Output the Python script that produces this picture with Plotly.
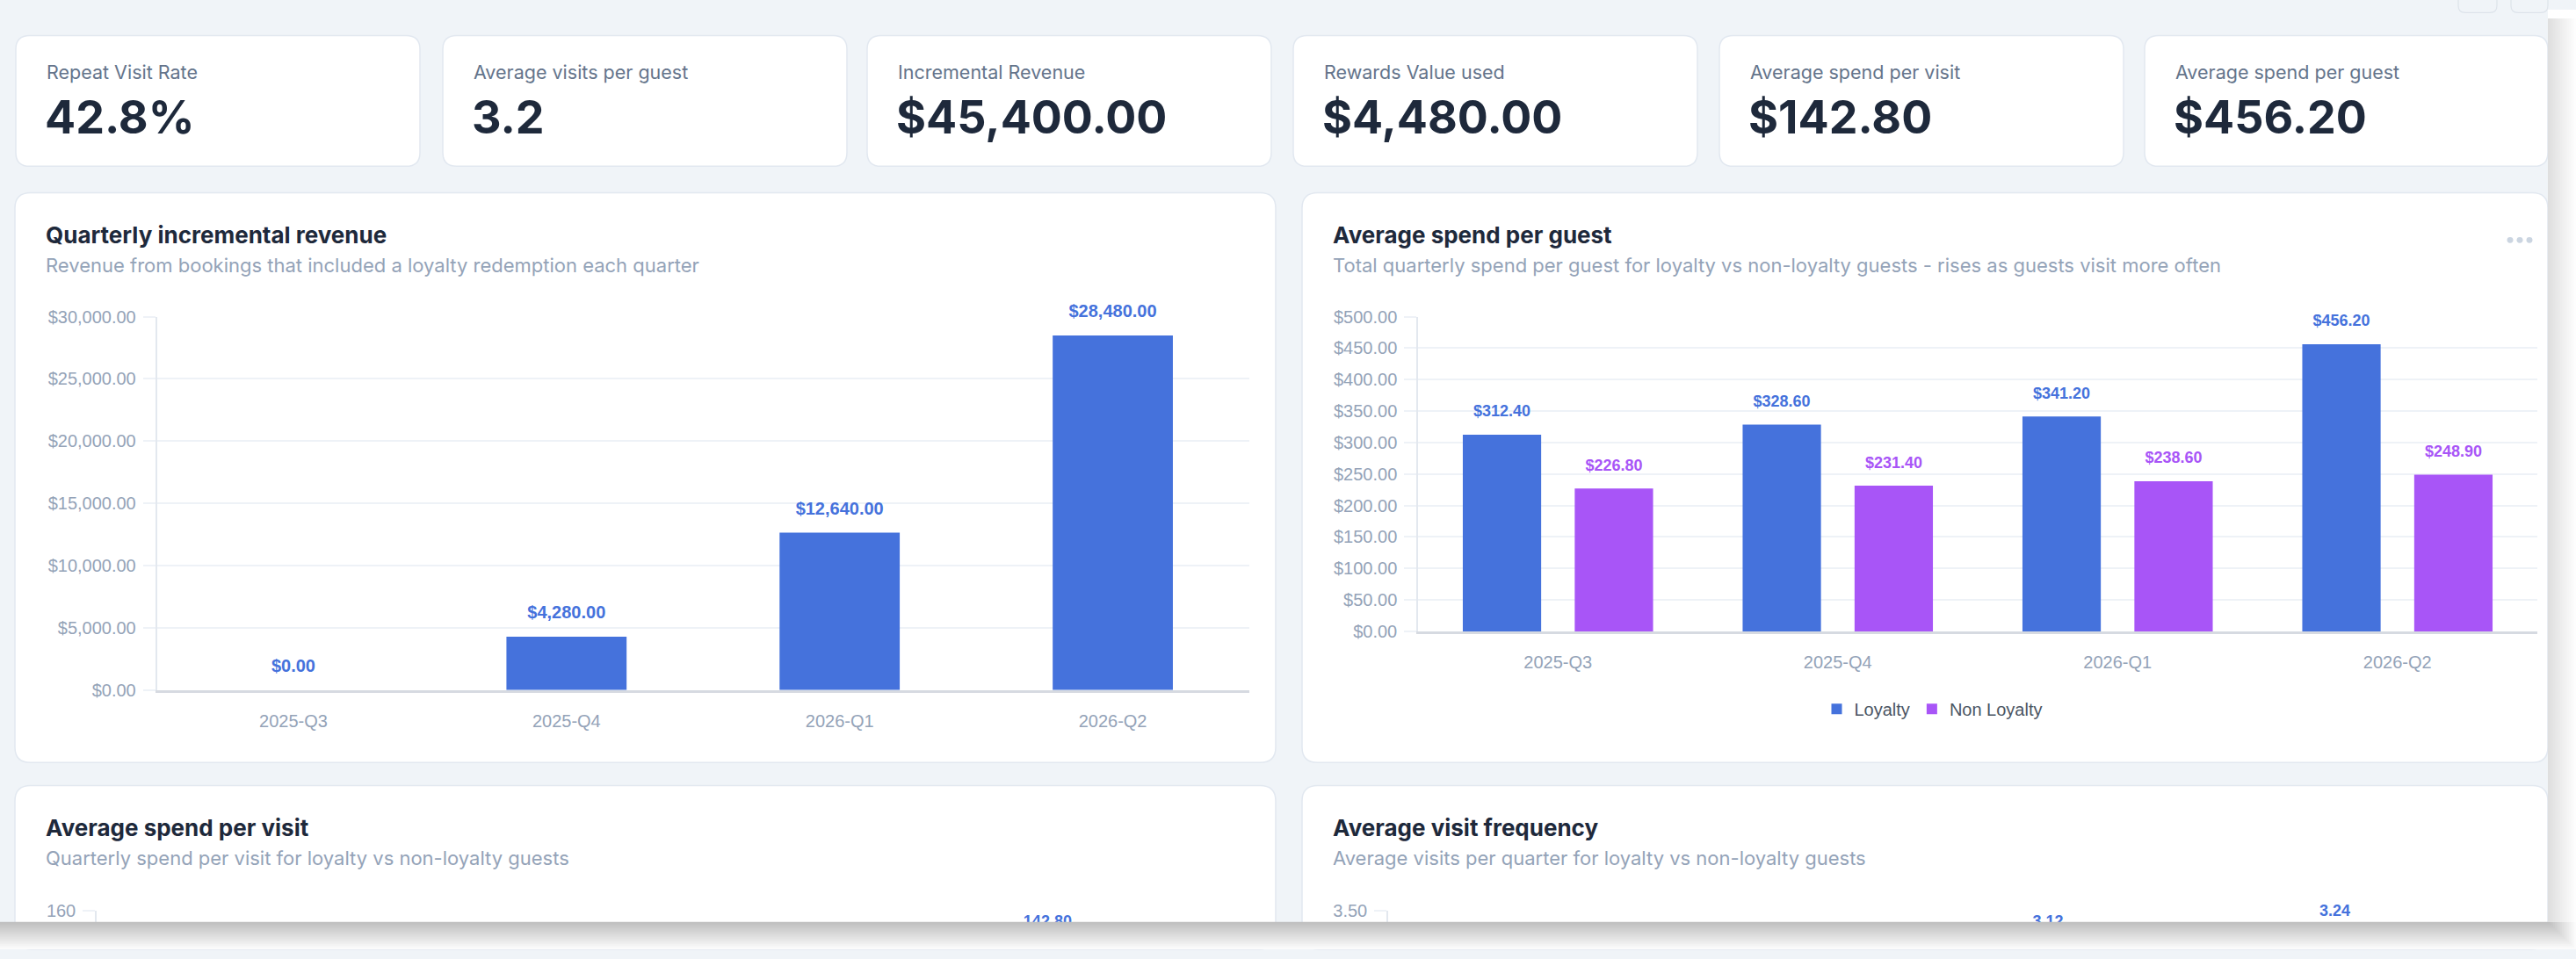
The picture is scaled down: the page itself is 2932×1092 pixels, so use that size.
import plotly.graph_objects as go

W, H = 2932, 1092

# ---------------- data ----------------
quarters = ["2025-Q3", "2025-Q4", "2026-Q1", "2026-Q2"]
incremental_revenue = [0.00, 4280.00, 12640.00, 28480.00]
spend_guest_loyalty = [312.40, 328.60, 341.20, 456.20]
spend_guest_non_loyalty = [226.80, 231.40, 238.60, 248.90]
spend_visit_loyalty = [126.40, 131.20, 135.60, 142.80]
spend_visit_non_loyalty = [104.20, 106.80, 109.50, 112.30]
visits_loyalty = [2.68, 2.86, 3.12, 3.24]
visits_non_loyalty = [1.84, 1.92, 1.97, 2.05]
series_names = ["Loyalty", "Non Loyalty"]

kpi_labels = ["Repeat Visit Rate", "Average visits per guest", "Incremental Revenue",
              "Rewards Value used", "Average spend per visit", "Average spend per guest"]
kpi_values = ["42.8%", "3.2", "$45,400.00", "$4,480.00", "$142.80", "$456.20"]

chart_titles = ["Quarterly incremental revenue", "Average spend per guest",
                "Average spend per visit", "Average visit frequency"]
chart_subtitles = [
    "Revenue from bookings that included a loyalty redemption each quarter",
    "Total quarterly spend per guest for loyalty vs non-loyalty guests - rises as guests visit more often",
    "Quarterly spend per visit for loyalty vs non-loyalty guests",
    "Average visits per quarter for loyalty vs non-loyalty guests",
]

# ---------------- styles ----------------
BLUE = "#4572dc"
PURPLE = "#a855f7"
BG = "#f0f4f8"
BORDER = "#e2e8f0"
TITLE = "#1e293b"
SUB = "#94a3b8"
KPI_LABEL = "#64748b"
TICK = "#94a3b8"
GRID = "#eef2f7"
UI = "Inter, 'Noto Sans', sans-serif"
CH = "'Liberation Sans', Arial, sans-serif"


def fx(x):
    return x / W


def fy(y):
    return 1 - y / H


def rrect_path(x0, y0, x1, y1, r):
    segs = [("M", [(x0 + r, y0)]), ("L", [(x1 - r, y0)]), ("Q", [(x1, y0), (x1, y0 + r)]),
            ("L", [(x1, y1 - r)]), ("Q", [(x1, y1), (x1 - r, y1)]), ("L", [(x0 + r, y1)]),
            ("Q", [(x0, y1), (x0, y1 - r)]), ("L", [(x0, y0 + r)]), ("Q", [(x0, y0), (x0 + r, y0)])]
    s = ""
    for cmd, pts in segs:
        s += cmd + " ".join(f"{fx(a):.6f},{fy(b):.6f}" for a, b in pts) + " "
    return s + "Z"


fig = go.Figure()


def label_trace(xa, ya, values, color, fmt, size):
    return go.Scatter(
        x=quarters, y=values, mode="markers+text", texttemplate=fmt,
        textposition="top center", orientation="v",
        textfont=dict(family=CH, size=size, color=color, weight="bold"),
        marker=dict(size=24, color="rgba(0,0,0,0)"),
        xaxis=xa, yaxis=ya, showlegend=False, hoverinfo="skip", cliponaxis=False)


# chart 1
fig.add_trace(go.Bar(x=quarters, y=incremental_revenue, width=0.44,
                     marker=dict(color=BLUE, line_width=0),
                     xaxis="x", yaxis="y", showlegend=False, hoverinfo="skip"))
fig.add_trace(label_trace("x", "y", incremental_revenue, BLUE, "%{y:$,.2f}", 20))

# grouped charts
grouped = [
    ("x2", "y2", spend_guest_loyalty, spend_guest_non_loyalty, "%{y:$,.2f}", True),
    ("x3", "y3", spend_visit_loyalty, spend_visit_non_loyalty, "%{y:.2f}", False),
    ("x4", "y4", visits_loyalty, visits_non_loyalty, "%{y:.2f}", False),
]
for xa, ya, loy, non, fmt, leg in grouped:
    for name, vals, col in [(series_names[0], loy, BLUE), (series_names[1], non, PURPLE)]:
        fig.add_trace(go.Bar(x=quarters, y=vals, name=name, marker=dict(color=col, line_width=0),
                             xaxis=xa, yaxis=ya, showlegend=leg, legendgroup=name,
                             hoverinfo="skip"))
    for vals, col in [(loy, BLUE), (non, PURPLE)]:
        fig.add_trace(label_trace(xa, ya, vals, col, fmt, 18))

# ---------------- axes ----------------
def yax(domain, rng, dtick, fmt):
    return dict(domain=domain, range=rng, dtick=dtick, tickformat=fmt,
                showgrid=True, gridcolor=GRID, gridwidth=2, zeroline=False,
                showline=True, linecolor="#e3e8ef", linewidth=1.5,
                ticks="outside", ticklen=14, tickcolor=GRID, tickwidth=2,
                ticklabelstandoff=4,
                tickfont=dict(family=CH, size=20, color=TICK), fixedrange=True)


def xax(domain, anchor, visible=True):
    return dict(domain=domain, anchor=anchor, type="category", showgrid=False,
                showline=visible, linecolor="#d6dae1", linewidth=2.5, ticks="",
                showticklabels=visible, ticklabelstandoff=15,
                tickfont=dict(family=CH, size=20, color=TICK), fixedrange=True)


layout_axes = dict(
    xaxis=xax([fx(178.5), fx(1422)], "y"),
    yaxis=yax([fy(790.7), fy(356.7)], [0, 30000], 5000, "$,.2f") | dict(anchor="x"),
    xaxis2=xax([fx(1614), fx(2888)], "y2"),
    yaxis2=yax([fy(722.5), fy(356.7)], [0, 500], 50, "$,.2f") | dict(anchor="x2"),
    xaxis3=xax([fx(110), fx(1422)], "y3", visible=False),
    yaxis3=yax([0, fy(1046.7)], [140.2, 160], 20, "d") | dict(anchor="x3"),
    xaxis4=xax([fx(1580), fx(2886)], "y4", visible=False),
    yaxis4=yax([0, fy(1046.7)], [3.067, 3.5], 0.5, ".2f") | dict(anchor="x4"),
)

# ---------------- shapes ----------------
shapes = []
# partially visible toolbar buttons at the top edge
for bx0, bx1 in [(2798, 2842), (2858, 2900)]:
    shapes.append(dict(type="path", path=rrect_path(bx0, -20, bx1, 3.5, 8),
                       xref="paper", yref="paper", fillcolor=BG,
                       line=dict(color="#dde3ea", width=1.2), layer="below"))
kpi_x = [18, 504, 987, 1472, 1957, 2441]
for x0 in kpi_x:
    shapes.append(dict(type="path", path=rrect_path(x0, 30, min(x0 + 460, 2900), 182, 16),
                       xref="paper", yref="paper", fillcolor="white",
                       line=dict(color=BORDER, width=1.5), layer="below"))
chart_cards = [(17, 212.7, 1452, 875), (1482, 212.7, 2900, 875),
               (17, 901.7, 1452, 1092), (1482, 901.7, 2900, 1092)]
for x0, y0, x1, y1 in chart_cards:
    shapes.append(dict(type="path", path=rrect_path(x0, y0, x1, y1, 18),
                       xref="paper", yref="paper", fillcolor="white",
                       line=dict(color=BORDER, width=1.5), layer="below"))
# menu dots on chart 2
for cx in [2857, 2868, 2879]:
    shapes.append(dict(type="circle", xref="paper", yref="paper",
                       x0=fx(cx - 3.5), x1=fx(cx + 3.5), y0=fy(267.7 + 3.5), y1=fy(267.7 - 3.5),
                       fillcolor="#cbd5e1", line_width=0, layer="above"))
# window edge: white base then soft shadow
shapes.append(dict(type="rect", xref="paper", yref="paper", x0=0, x1=1, y0=0, y1=fy(1060),
                   fillcolor="white", line_width=0, layer="above"))
shapes.append(dict(type="rect", xref="paper", yref="paper", x0=fx(2900), x1=1, y0=0, y1=1,
                   fillcolor="white", line_width=0, layer="above"))
for k in range(1, 17):
    shapes.append(dict(type="rect", xref="paper", yref="paper", x0=0, x1=fx(2900 + 2 * k),
                       y0=fy(1060 + 2 * k), y1=fy(1060), fillcolor="rgba(0,0,0,0.015)",
                       line_width=0, layer="above"))
    shapes.append(dict(type="rect", xref="paper", yref="paper", x0=fx(2900), x1=fx(2900 + 2 * k),
                       y0=fy(1060), y1=fy(10), fillcolor="rgba(0,0,0,0.0095)",
                       line_width=0, layer="above"))

# ---------------- annotations ----------------
ann = []
for x0, lab, val in zip(kpi_x, kpi_labels, kpi_values):
    ann.append(dict(text=lab, x=fx(x0 + 33), y=fy(72.5), xref="paper", yref="paper",
                    xanchor="left", yanchor="middle", showarrow=False,
                    font=dict(family=UI, size=21.5, color=KPI_LABEL)))
    ann.append(dict(text=val, x=fx(x0 + 31), y=fy(125), xref="paper", yref="paper",
                    xanchor="left", yanchor="middle", showarrow=False,
                    font=dict(family=UI, size=52, color=TITLE, weight="bold")))
for (x0, y0, x1, y1), t, s in zip(chart_cards, chart_titles, chart_subtitles):
    ann.append(dict(text=t, x=fx(x0 + 33), y=fy(y0 + 49), xref="paper", yref="paper",
                    xanchor="left", yanchor="middle", showarrow=False,
                    font=dict(family=UI, size=26, color=TITLE, weight="bold")))
    ann.append(dict(text=s, x=fx(x0 + 33), y=fy(y0 + 84), xref="paper", yref="paper",
                    xanchor="left", yanchor="middle", showarrow=False,
                    font=dict(family=UI, size=22, color=SUB)))

fig.update_layout(
    width=W, height=H, margin=dict(l=0, r=0, t=0, b=0),
    paper_bgcolor=BG, plot_bgcolor="white",
    barmode="group", bargap=0.2, bargroupgap=0.3,
    scattermode="group", scattergap=0.2,
    showlegend=True,
    legend=dict(orientation="h", x=fx(2200), xanchor="center", y=fy(812.7), yanchor="middle",
                font=dict(family=CH, size=20, color="#4b5563"), bgcolor="rgba(0,0,0,0)",
                traceorder="normal"),
    shapes=shapes, annotations=ann, hovermode=False,
    **layout_axes,
)

fig.write_html("out.html", config={"displayModeBar": False},
               post_script="document.body.style.margin='0';document.body.style.overflow='hidden';")
